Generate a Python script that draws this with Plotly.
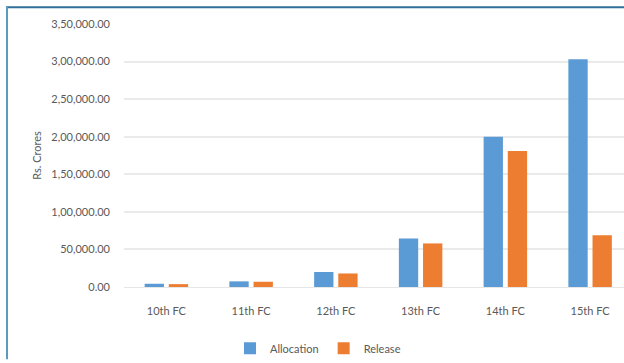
import plotly.graph_objects as go

# Finance Commission rounds and amounts (Rs. Crores)
commissions = ["10th FC", "11th FC", "12th FC", "13th FC", "14th FC", "15th FC"]
allocation = [4300, 7500, 20000, 64500, 200000, 303000]
release = [3800, 7000, 18000, 58000, 181000, 69000]

# Y-axis ticks in Indian digit grouping
y_tickvals = [0, 50000, 100000, 150000, 200000, 250000, 300000, 350000]
y_ticktext = ["0.00", "50,000.00", "1,00,000.00", "1,50,000.00", "2,00,000.00",
              "2,50,000.00", "3,00,000.00", "3,50,000.00"]

W, H = 624, 363
ML, MR, MT, MB = 124, 0, 24, 73
PW, PH = W - ML - MR, H - MT - MB


def px_x(x):
    return (x - ML) / PW


def px_y(y):
    return (H - MB - y) / PH


font = dict(family="Lato, Open Sans, sans-serif", size=11, color="#595959")

fig = go.Figure()
fig.add_trace(go.Bar(name="Allocation", x=commissions, y=allocation,
                     marker=dict(color="#5b9bd5", line=dict(width=0))))
fig.add_trace(go.Bar(name="Release", x=commissions, y=release,
                     marker=dict(color="#ed7d31", line=dict(width=0))))

# Outer frame: top and left rules
fig.add_shape(type="line", xref="paper", yref="paper",
              x0=px_x(6), x1=px_x(624), y0=px_y(7), y1=px_y(7),
              line=dict(color="#2f6f99", width=2))
fig.add_shape(type="line", xref="paper", yref="paper",
              x0=px_x(7), x1=px_x(7), y0=px_y(6), y1=px_y(363),
              line=dict(color="#5a9bbf", width=2))

fig.update_layout(
    width=W, height=H,
    margin=dict(l=ML, r=MR, t=MT, b=MB),
    paper_bgcolor="white", plot_bgcolor="white",
    barmode="group", bargap=0.43, bargroupgap=0.2,
    font=font,
    showlegend=True,
    legend=dict(orientation="h", x=px_x(318), xanchor="center",
                y=px_y(352), yanchor="middle", font=font,
                itemwidth=30, traceorder="normal"),
    xaxis=dict(range=[-0.5, 5.4], showgrid=False, showline=True,
               linecolor="#e6e6e6", linewidth=1, ticks="",
               ticklabelstandoff=14, tickfont=font),
    yaxis=dict(range=[0, 350000], tickvals=y_tickvals, ticktext=y_ticktext,
               showgrid=True, gridcolor="#eaeaea", gridwidth=1.5,
               zeroline=False, ticks="", ticklabelstandoff=13,
               tickfont=font,
               title=dict(text="Rs. Crores", font=font, standoff=7)),
)

fig.write_html("out.html")
